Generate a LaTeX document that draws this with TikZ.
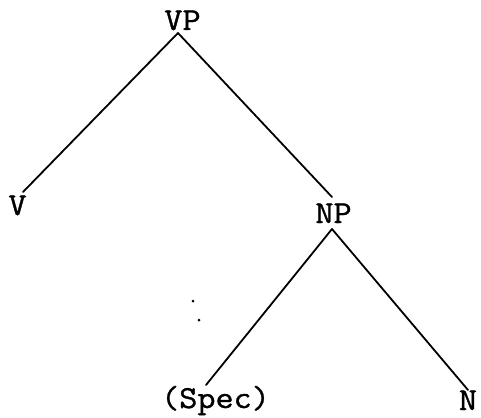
\documentclass[tikz,border=0pt]{standalone}
\usepackage{fontspec}
\newfontfamily\treefont{Latin Modern Mono}[FakeBold=1]
\begin{document}
\begin{tikzpicture}[x=1pt,y=-1pt,
  lab/.style={inner sep=0pt, anchor=base, font=\treefont\fontsize{32}{32}\selectfont},
  edge/.style={line width=1.8pt, line cap=round}]
\newcommand\wide[1]{\scalebox{1.1}[1]{#1}}
\useasboundingbox (0,0) rectangle (481,417);
\node[lab] (VP) at (182.5,30) {\wide{VP}};
\node[lab] (V) at (17.5,215) {\wide{V}};
\node[lab] (NP) at (333.5,223) {\wide{NP}};
\node[lab] (Spec) at (215.5,408) {\wide{(Spec)}};
\node[lab] (N) at (468,410) {\wide{N}};
\draw[edge] ([xshift=-4.5pt,yshift=-3pt]VP.base) -- ([xshift=5.5pt,yshift=23pt]V.base);
\draw[edge] ([xshift=-4.5pt,yshift=-3pt]VP.base) -- ([xshift=-1.5pt,yshift=26pt]NP.base);
\draw[edge] ([xshift=-1.5pt,yshift=-6pt]NP.base) -- ([xshift=-9.5pt,yshift=23pt]Spec.base);
\draw[edge] ([xshift=-1.5pt,yshift=-6pt]NP.base) -- ([xshift=0pt,yshift=20pt]N.base);
\fill (193,301) circle (1.5pt);
\fill (199,320) circle (1.5pt);
\end{tikzpicture}
\end{document}
